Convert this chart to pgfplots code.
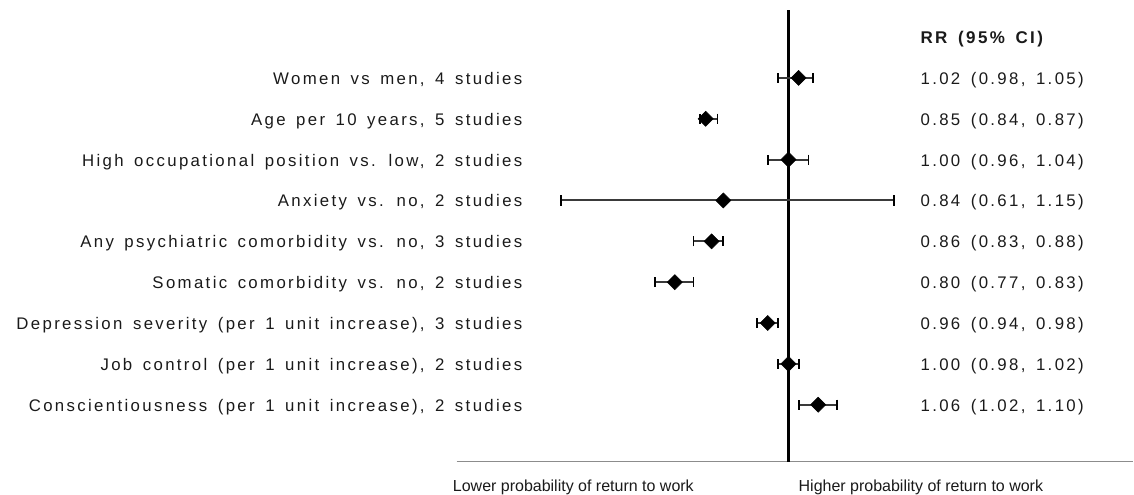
\documentclass[border=0pt]{standalone}
\usepackage{pgfplots}
\pgfplotsset{compat=1.18}
\usepackage{pgfplotstable}
\usepackage{fontspec}
\setmainfont{Liberation Sans}
\newfontfamily\spaced[LetterSpace=14,WordSpace=1.5]{Liberation Sans}
\definecolor{txt}{HTML}{1A1A1A}
\definecolor{ebar}{HTML}{3A3A3A}
\definecolor{baseln}{HTML}{8C8C8C}

% pos: 9 = top row
\pgfplotstableread{
pos rr lo hi
9 1.02 0.98 1.05
8 0.85 0.84 0.87
7 1.00 0.96 1.04
6 0.88 0.64 1.23
5 0.86 0.83 0.88
4 0.80 0.77 0.83
3 0.96 0.94 0.98
2 1.00 0.98 1.02
1 1.06 1.02 1.10
}\forestdata

\begin{document}
\begin{tikzpicture}
\begin{axis}[width=850.5pt,height=368.25pt,scale only axis,hide axis,clip=false,
  xmode=log, xmin=0.2129, xmax=1.967, ymin=-1.104, ymax=10.908]
\path (rel axis cs:0,0) rectangle (rel axis cs:1,1);
\draw[baseln, line width=1.2pt] (rel axis cs:{457/1134},{1-462/491}) -- (rel axis cs:1,{1-462/491});
\draw[black, line width=2.4pt] (rel axis cs:{789/1134},{1-462/491}) -- (rel axis cs:{789/1134},{1-10/491});
\addplot[only marks, mark=square*, mark size=4pt,
  mark options={rotate=45, black, fill=black},
  error bars/.cd, x dir=both, x explicit,
  error bar style={draw=ebar, line width=1.5pt},
  error mark options={rotate=90, draw=black, line width=1.4pt, mark size=3.8pt}]
  table[x=rr, y=pos, x error plus expr=\thisrow{hi}-\thisrow{rr}, x error minus expr=\thisrow{rr}-\thisrow{lo}] \forestdata;
\begin{scope}[every node/.style={inner sep=0pt, text=txt, font=\spaced\fontsize{12.6}{15}\selectfont}]
\node[anchor=base east] at (rel axis cs:{523/1134},{1-84.5/491}) {Women vs men, 4 studies};
\node[anchor=base east] at (rel axis cs:{523/1134},{1-125.4/491}) {Age per 10 years, 5 studies};
\node[anchor=base east] at (rel axis cs:{523/1134},{1-166.3/491}) {High occupational position vs. low, 2 studies};
\node[anchor=base east] at (rel axis cs:{523/1134},{1-207.1/491}) {Anxiety vs. no, 2 studies};
\node[anchor=base east] at (rel axis cs:{523/1134},{1-248/491}) {Any psychiatric comorbidity vs. no, 3 studies};
\node[anchor=base east] at (rel axis cs:{523/1134},{1-288.9/491}) {Somatic comorbidity vs. no, 2 studies};
\node[anchor=base east] at (rel axis cs:{523/1134},{1-329.8/491}) {Depression severity (per 1 unit increase), 3 studies};
\node[anchor=base east] at (rel axis cs:{523/1134},{1-370.6/491}) {Job control (per 1 unit increase), 2 studies};
\node[anchor=base east] at (rel axis cs:{523/1134},{1-411.5/491}) {Conscientiousness (per 1 unit increase), 2 studies};
\node[anchor=base west, font=\spaced\bfseries\fontsize{12.75}{15}\selectfont] at (rel axis cs:{921/1134},{1-44/491}) {RR (95\% CI)};
\node[anchor=base west] at (rel axis cs:{921/1134},{1-84.5/491}) {1.02 (0.98, 1.05)};
\node[anchor=base west] at (rel axis cs:{921/1134},{1-125.4/491}) {0.85 (0.84, 0.87)};
\node[anchor=base west] at (rel axis cs:{921/1134},{1-166.3/491}) {1.00 (0.96, 1.04)};
\node[anchor=base west] at (rel axis cs:{921/1134},{1-207.1/491}) {0.84 (0.61, 1.15)};
\node[anchor=base west] at (rel axis cs:{921/1134},{1-248/491}) {0.86 (0.83, 0.88)};
\node[anchor=base west] at (rel axis cs:{921/1134},{1-288.9/491}) {0.80 (0.77, 0.83)};
\node[anchor=base west] at (rel axis cs:{921/1134},{1-329.8/491}) {0.96 (0.94, 0.98)};
\node[anchor=base west] at (rel axis cs:{921/1134},{1-370.6/491}) {1.00 (0.98, 1.02)};
\node[anchor=base west] at (rel axis cs:{921/1134},{1-411.5/491}) {1.06 (1.02, 1.10)};
\node[anchor=base west, font=\fontsize{12}{14}\selectfont] at (rel axis cs:{453/1134},{1-492/491}) {Lower probability of return to work};
\node[anchor=base west, font=\fontsize{12}{14}\selectfont] at (rel axis cs:{799/1134},{1-492/491}) {Higher probability of return to work};
\end{scope}
\end{axis}
\end{tikzpicture}
\end{document}
